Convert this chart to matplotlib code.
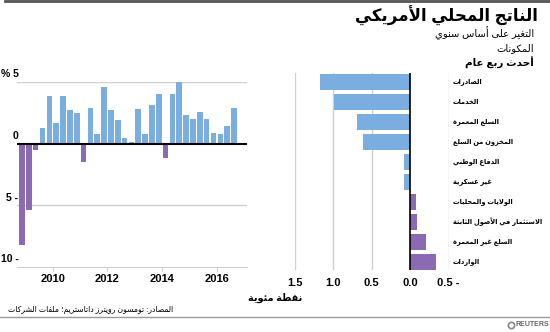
import numpy as np
import matplotlib
matplotlib.use("Agg")
import matplotlib.pyplot as plt

# --- DATOS ---
gdp_growth = [-8.2, -5.4, -0.5, 1.3, 3.9, 1.7, 3.9, 2.7, 2.5, -1.5, 2.9, 0.8,
              4.6, 2.7, 1.9, 0.5, 0.1, 2.8, 0.8, 3.1, 4.0, -1.2, 4.0, 5.0,
              2.3, 2.0, 2.6, 2.0, 0.9, 0.8, 1.4, 2.9]
first_year, first_q = 2008, 4
year_ticks = [2010, 2012, 2014, 2016]

components = ["الصادرات", "الخدمات", "السلع المعمرة", "المخزون من السلع",
              "الدفاع الوطني", "غير عسكرية", "الولايات والمحليات",
              "الاستثمار في الأصول الثابتة", "السلع غير المعمرة", "الواردات"]
contrib = [1.17, 0.99, 0.69, 0.61, 0.08, 0.08, -0.08, -0.09, -0.21, -0.34]
contrib_ticks = [1.5, 1.0, 0.5, 0.0, -0.5]
contrib_labels = ["1.5", "1.0", "0.5", "0.0", "0.5 -"]

left_ticks = [5, 0, -5, -10]
left_labels = ["% 5", "0", "5 -", "10 -"]

title = "الناتج المحلي الأمريكي"
subtitles = ["التغير على أساس سنوي", "المكونات"]
subtitle3 = "أحدث ربع عام"
unit = "نقطة مئوية"
source = "المصادر: تومسون رويترز داتاستريم؛ ملفات الشركات"

BLUE = "#7aaee0"
PURPLE = "#8b69b3"
GRID = "#cfcfcf"

# --- FORMAS ÁRABES (matplotlib no da forma al texto) ---
_RIGHT = {'آ': 0xFE81, 'أ': 0xFE83, 'ؤ': 0xFE85, 'إ': 0xFE87, 'ا': 0xFE8D,
          'ة': 0xFE93, 'د': 0xFEA9, 'ذ': 0xFEAB, 'ر': 0xFEAD, 'ز': 0xFEAF,
          'و': 0xFEED, 'ى': 0xFEEF}
_DUAL = {'ئ': 0xFE89, 'ب': 0xFE8F, 'ت': 0xFE95, 'ث': 0xFE99, 'ج': 0xFE9D,
         'ح': 0xFEA1, 'خ': 0xFEA5, 'س': 0xFEB1, 'ش': 0xFEB5, 'ص': 0xFEB9,
         'ض': 0xFEBD, 'ط': 0xFEC1, 'ظ': 0xFEC5, 'ع': 0xFEC9, 'غ': 0xFECD,
         'ف': 0xFED1, 'ق': 0xFED5, 'ك': 0xFED9, 'ل': 0xFEDD, 'م': 0xFEE1,
         'ن': 0xFEE5, 'ه': 0xFEE9, 'ي': 0xFEF1}
_LAMALEF = {'ا': 0xFEFB, 'أ': 0xFEF7, 'إ': 0xFEF9, 'آ': 0xFEF5}


def shape(s):
    toks = []
    i = 0
    while i < len(s):
        c = s[i]
        if c == 'ل' and i + 1 < len(s) and s[i + 1] in _LAMALEF:
            toks.append(('R', _LAMALEF[s[i + 1]]))
            i += 2
            continue
        if c in _DUAL:
            toks.append(('D', _DUAL[c]))
        elif c in _RIGHT:
            toks.append(('R', _RIGHT[c]))
        else:
            toks.append(('N', c))
        i += 1
    out = []
    for k, (kind, val) in enumerate(toks):
        if kind == 'N':
            out.append(val)
            continue
        prev = k > 0 and toks[k - 1][0] == 'D'
        nxt = kind == 'D' and k + 1 < len(toks) and toks[k + 1][0] in 'DR'
        if kind == 'D':
            off = 3 if (prev and nxt) else 1 if prev else 2 if nxt else 0
        else:
            off = 1 if prev else 0
        out.append(chr(val + off))
    return ''.join(out[::-1])


plt.rcParams['font.family'] = ['Liberation Sans', 'DejaVu Sans']

W, H = 550, 332
fig = plt.figure(figsize=(W / 100, H / 100), dpi=100)


def ax_rect(l, t, r, b):
    return [l / W, 1 - b / H, (r - l) / W, (b - t) / H]


def ftext(x, y, s, **kw):
    fig.text(x / W, 1 - y / H, s, **kw)


# --- PANEL IZQUIERDO: crecimiento del PIB ---
ax1 = fig.add_axes(ax_rect(17, 82, 247, 267))
x = np.arange(len(gdp_growth))
vals = np.array(gdp_growth)
colors = [BLUE if v >= 0 else PURPLE for v in vals]
ax1.bar(x, vals, width=0.82, color=colors, zorder=2)
ax1.set_xlim(-0.73, 32.9)
ax1.set_ylim(-10, 5)
for v in [5, -5]:
    ax1.axhline(v, color=GRID, lw=1, zorder=1)
ax1.axhline(0, color="black", lw=1.5, zorder=3)
for sp in ["top", "left", "right"]:
    ax1.spines[sp].set_visible(False)
ax1.spines["bottom"].set_color(GRID)
ax1.set_yticks([])
tick_pos = [(yr - first_year) * 4 + (1 - first_q) - 0.5 for yr in year_ticks]
ax1.set_xticks(tick_pos)
ax1.set_xticklabels([str(y) for y in year_ticks], fontsize=8, fontweight="bold")
ax1.tick_params(axis="x", length=3, color=GRID, pad=2)
for v, lab in zip(left_ticks, left_labels):
    ax1.annotate(lab, xy=(0, v), xycoords=("axes fraction", "data"),
                 xytext=(1, 2), textcoords="offset points",
                 ha="right", va="bottom", fontsize=7.5, fontweight="bold")

# --- PANEL DERECHO: contribuciones ---
ax2 = fig.add_axes(ax_rect(294.5, 73, 448.5, 270))
yy = np.arange(len(contrib))
c2 = [BLUE if v >= 0 else PURPLE for v in contrib]
ax2.barh(yy, contrib, height=0.8, color=c2, zorder=2)
ax2.set_xlim(1.5, -0.5)
ax2.set_ylim(9.4, -0.45)
for v in contrib_ticks:
    if v == 0:
        ax2.axvline(v, color="black", lw=1.2, zorder=3)
    else:
        ax2.axvline(v, color=GRID, lw=1, zorder=1)
for sp in ax2.spines.values():
    sp.set_visible(False)
ax2.set_yticks([])
ax2.set_xticks(contrib_ticks)
ax2.set_xticklabels(contrib_labels, fontsize=8, fontweight="bold")
ax2.tick_params(axis="x", length=0, pad=6)
for i, lab in enumerate(components):
    ax2.annotate(shape(lab), xy=(1, i), xycoords=("axes fraction", "data"),
                 xytext=(3, 0), textcoords="offset points",
                 ha="left", va="center", fontsize=4.8, fontweight="bold")

# --- TEXTOS ---
fig.add_artist(plt.Line2D([5 / W, 1], [1 - 1 / H, 1 - 1 / H], color="#555555", lw=2))
ftext(538, 16, shape(title), ha="right", va="center", fontsize=12, fontweight="bold")
ftext(534, 33, shape(subtitles[0]), ha="right", va="center", fontsize=7.2)
ftext(534, 48, shape(subtitles[1]), ha="right", va="center", fontsize=7.2)
ftext(534, 63, shape(subtitle3), ha="right", va="center", fontsize=7.5, fontweight="bold")
ftext(302, 298, shape(unit), ha="right", va="center", fontsize=7, fontweight="bold")
ftext(8, 310, shape(source), ha="left", va="center", fontsize=5.5)
fig.add_artist(plt.Line2D([0, 1], [1 - 317 / H, 1 - 317 / H], color="#999999", lw=1))
fig.add_artist(plt.Line2D([511 / W], [1 - 325 / H], marker="o", ms=4.5, mfc="white",
                          mec="#888888", mew=1.2))
ftext(516, 325, "REUTERS", ha="left", va="center", fontsize=5, fontweight="bold",
      color="#666666")

fig.savefig("out.png", dpi=100)
